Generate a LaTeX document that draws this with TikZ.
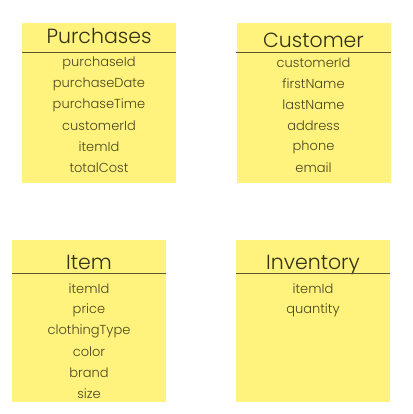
\documentclass[tikz,border=0pt]{standalone}
\usepackage{fontspec}
\IfFontExistsTF{Poppins Light}{\setmainfont{Poppins Light}}{\setmainfont{Poppins}}
\usepackage{tikz}
\usetikzlibrary{positioning,calc}
\definecolor{notefill}{RGB}{255,242,125}
\definecolor{notetext}{RGB}{72,70,32}
\definecolor{noteline}{RGB}{90,86,50}

\begin{document}
\begin{tikzpicture}[x=1pt,y=1pt,
  tbox/.style={rectangle, fill=notefill, draw=none, minimum width=154pt, minimum height=160pt, inner sep=0pt},
  ttitle/.style={font=\fontsize{20.5}{20.5}\selectfont, text=notetext!70!black, inner sep=0pt, anchor=base},
  field/.style={font=\fontsize{13}{13}\selectfont, text=notetext, inner sep=0pt},
  sep/.style={draw=noteline, line width=0.8pt}
]
\useasboundingbox (0,0) rectangle (412,-414);

% Tables
\node[tbox] (purch) at (99,-103) {};
\node[tbox] (cust)  at (313.5,-103) {};
\node[tbox, minimum height=162pt] (item) at (89,-321) {};
\node[tbox, minimum height=162pt] (inv)  at (313,-321) {};

% Titles
\node[ttitle] (purchT) at (99,-44) {Purchases};
\node[ttitle] (custT)  at (313.5,-48) {Customer};
\node[ttitle] (itemT)  at (89,-269) {Item};
\node[ttitle] (invT)   at (313,-269) {Inventory};

% Separators
\draw[sep] ([yshift=-30pt]purch.north west) -- ([yshift=-30pt]purch.north east);
\draw[sep] ([yshift=-30pt]cust.north west) -- ([yshift=-30pt]cust.north east);
\draw[sep] ([yshift=-34pt]item.north west) -- ([yshift=-34pt]item.north east);
\draw[sep] ([yshift=-34pt]inv.north west) -- ([yshift=-34pt]inv.north east);

% Fields
\foreach \f [count=\i] in {purchaseId,purchaseDate,purchaseTime,customerId,itemId,totalCost}
  \node[field] (purch-\i) at (99,{-42-21*\i}) {\f};
\foreach \f [count=\i] in {customerId,firstName,lastName,address,phone,email}
  \node[field] (cust-\i) at (313.5,{-42-21*\i}) {\f};
\foreach \f [count=\i] in {itemId,price,clothingType,color,brand,size}
  \node[field] (item-\i) at (89,{-268-21*\i}) {\f};
\foreach \f [count=\i] in {itemId,quantity}
  \node[field] (inv-\i) at (313,{-268-21*\i}) {\f};
\end{tikzpicture}
\end{document}
